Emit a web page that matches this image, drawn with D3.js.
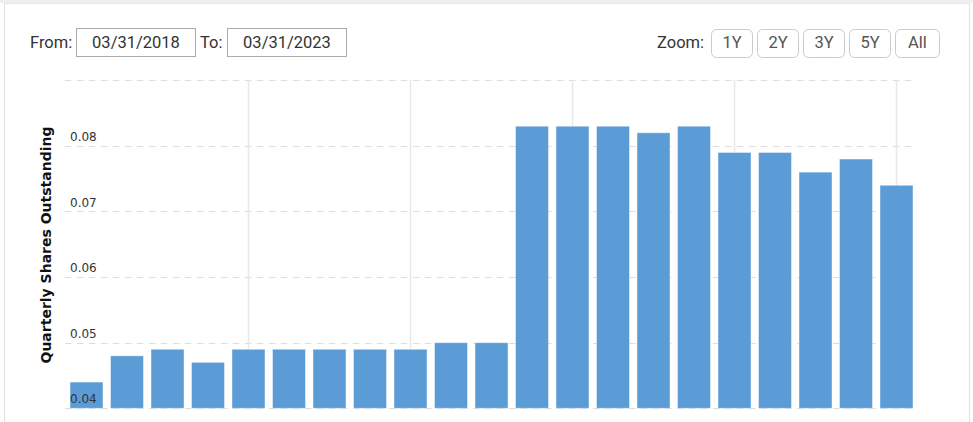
<!DOCTYPE html>
<html>
<head>
<meta charset="utf-8">
<script src="https://cdn.jsdelivr.net/npm/d3@7"></script>
<style>
  html, body { margin: 0; padding: 0; background: #fff; width: 973px; height: 422px; overflow: hidden; }
  svg { display: block; }
</style>
</head>
<body>
<div id="chart"></div>
<script>
// ---- data ----
const quarters = ["03/31/2018","06/30/2018","09/30/2018","12/31/2018",
  "03/31/2019","06/30/2019","09/30/2019","12/31/2019",
  "03/31/2020","06/30/2020","09/30/2020","12/31/2020",
  "03/31/2021","06/30/2021","09/30/2021","12/31/2021",
  "03/31/2022","06/30/2022","09/30/2022","12/31/2022",
  "03/31/2023"];
const sharesOutstanding = [0.044, 0.048, 0.049, 0.047, 0.049, 0.049, 0.049, 0.049, 0.049, 0.050, 0.050,
  0.083, 0.083, 0.083, 0.082, 0.083, 0.079, 0.079, 0.076, 0.078, 0.074];
const yTicks = [0.04, 0.05, 0.06, 0.07, 0.08, 0.09];
const yLabelTicks = [0.04, 0.05, 0.06, 0.07, 0.08];
const verticalGridDates = ["03/31/2019","03/31/2020","03/31/2021","03/31/2022","03/31/2023"];
const zoomButtons = ["1Y","2Y","3Y","5Y","All"];
const fromDate = "03/31/2018", toDate = "03/31/2023";
const yTitle = "Quarterly Shares Outstanding";

const W = 973, H = 422;
const svg = d3.select("#chart").append("svg").attr("width", W).attr("height", H);

// frame
svg.append("rect").attr("x",0).attr("y",0).attr("width",W).attr("height",3).attr("fill","#efefef");
svg.append("line").attr("x1",4.5).attr("x2",4.5).attr("y1",3).attr("y2",H).attr("stroke","#e0e0e0");
svg.append("line").attr("x1",969.5).attr("x2",969.5).attr("y1",3).attr("y2",H).attr("stroke","#e0e0e0");
svg.append("line").attr("x1",4).attr("x2",970).attr("y1",3.5).attr("y2",3.5).attr("stroke","#e6e6e6");

// scales
const x = d3.scaleBand().domain(quarters).range([66.25, 916.75]).paddingInner(0.185).paddingOuter(0.0925);
const y = d3.scaleLinear().domain([0.04, 0.09]).range([408.3, 80.3]);

// horizontal dashed grid
svg.append("g").selectAll("line").data(yTicks).join("line")
  .attr("x1", 65).attr("x2", 913)
  .attr("y1", d => Math.round(y(d)) + 0.5).attr("y2", d => Math.round(y(d)) + 0.5)
  .attr("stroke", "#dcdcdc").attr("stroke-dasharray", "6.5,5.5");

// vertical grid
svg.append("g").selectAll("line").data(verticalGridDates).join("line")
  .attr("x1", d => x(d) + x.bandwidth()/2).attr("x2", d => x(d) + x.bandwidth()/2)
  .attr("y1", 80).attr("y2", 408)
  .attr("stroke", "#e8e8e8").attr("stroke-width", 1.5);

// bars
svg.append("g").selectAll("rect").data(quarters).join("rect")
  .attr("x", d => x(d)).attr("width", x.bandwidth())
  .attr("y", (d,i) => y(sharesOutstanding[i]))
  .attr("height", (d,i) => y(0.04) - y(sharesOutstanding[i]))
  .attr("fill", "#5b9bd6")
  .attr("stroke", "rgba(255,255,255,0.45)").attr("stroke-width", 1);

// y labels
svg.append("g").selectAll("text").data(yLabelTicks).join("text")
  .attr("x", 70).attr("y", d => y(d) - 5)
  .attr("font-family", "DejaVu Sans, Verdana, sans-serif").attr("font-size", 12)
  .attr("fill", "#333")
  .text(d => d3.format(".2f")(d));

// y title
svg.append("text")
  .attr("transform", "translate(51,245) rotate(-90)")
  .attr("text-anchor", "middle")
  .attr("font-family", "DejaVu Sans, Verdana, sans-serif").attr("font-size", 14).attr("font-weight", "bold")
  .attr("fill", "#111")
  .text(yTitle);

// controls
const ctrlFont = "Roboto, 'Open Sans', sans-serif";
const fs = 16.5;
svg.append("text").attr("x", 30).attr("y", 48).attr("font-family", ctrlFont).attr("font-size", fs).attr("fill", "#333").text("From:");
svg.append("rect").attr("x", 76.5).attr("y", 28.5).attr("width", 119).attr("height", 28).attr("fill", "#fff").attr("stroke", "#aaa");
svg.append("text").attr("x", 136).attr("y", 48).attr("text-anchor","middle").attr("font-family", ctrlFont).attr("font-size", fs).attr("fill", "#333").text(fromDate);
svg.append("text").attr("x", 200).attr("y", 48).attr("font-family", ctrlFont).attr("font-size", fs).attr("fill", "#333").text("To:");
svg.append("rect").attr("x", 227.5).attr("y", 28.5).attr("width", 119).attr("height", 28).attr("fill", "#fff").attr("stroke", "#aaa");
svg.append("text").attr("x", 287).attr("y", 48).attr("text-anchor","middle").attr("font-family", ctrlFont).attr("font-size", fs).attr("fill", "#333").text(toDate);

svg.append("text").attr("x", 657).attr("y", 48).attr("font-family", ctrlFont).attr("font-size", fs).attr("fill", "#333").text("Zoom:");
const btnX = [711, 757, 803, 849, 895];
const btnW = [41, 41, 41, 41, 44];
const bg = svg.append("g").selectAll("g").data(zoomButtons).join("g");
bg.append("rect")
  .attr("x", (d,i) => btnX[i] + 0.5).attr("y", 29.5)
  .attr("width", (d,i) => btnW[i]).attr("height", 28).attr("rx", 5)
  .attr("fill", "#fff").attr("stroke", "#ccc");
bg.append("text")
  .attr("x", (d,i) => btnX[i] + 0.5 + btnW[i]/2).attr("y", 48)
  .attr("text-anchor", "middle").attr("font-family", ctrlFont).attr("font-size", fs).attr("fill", "#555")
  .text(d => d);
</script>
</body>
</html>
